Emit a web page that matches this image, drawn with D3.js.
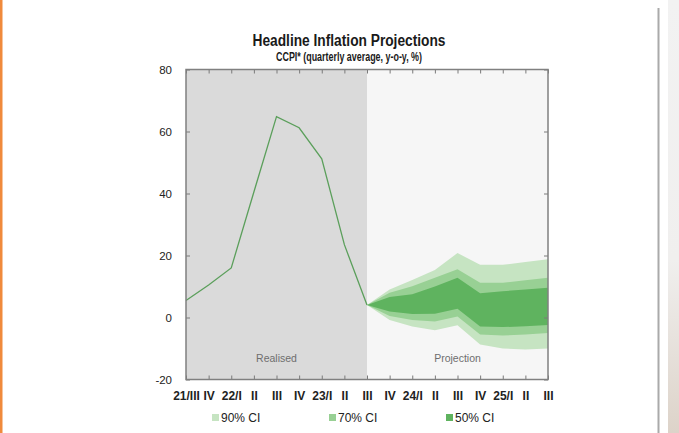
<!DOCTYPE html>
<html>
<head>
<meta charset="utf-8">
<script src="https://cdn.jsdelivr.net/npm/d3@7"></script>
<style>
  html, body { margin: 0; padding: 0; background: #ffffff; }
  svg { display: block; }
  text { font-family: "Liberation Sans", Arial, sans-serif; }
</style>
</head>
<body>
<svg id="chart" width="679" height="433"></svg>
<script>
// ---- data ----
const quarters = ["21/III","IV","22/I","II","III","IV","23/I","II","III","IV","24/I","II","III","IV","25/I","II","III"];
const realised = [5.5, 10.5, 16, 40.5, 64.8, 61.2, 51.2, 23.5, 4];
const projStart = 8;
const ci90Upper = [4, 9.0, 12.1, 15.3, 20.8, 17.0, 17.0, 17.9, 18.8];
const ci70Upper = [4, 8.0, 10.1, 12.8, 15.6, 11.2, 11.2, 12.0, 12.8];
const ci50Upper = [4, 6.6, 7.5, 10.0, 12.8, 7.8, 8.5, 9.0, 9.6];
const ci50Lower = [4, 1.9, 1.1, 1.2, 2.8, -2.9, -3.1, -2.8, -2.4];
const ci70Lower = [4, 0.5, -0.8, -1.3, 0.3, -5.5, -5.8, -5.5, -5.0];
const ci90Lower = [4, -0.8, -2.9, -4.1, -2.5, -8.7, -10.0, -10.3, -10.0];
const yTicks = [-20, 0, 20, 40, 60, 80];
const legendLabels = ["90% CI", "70% CI", "50% CI"];

// ---- layout ----
const svg = d3.select("#chart");
const L = 186, R = 548, T = 69.5, B = 379.5;
const x = d3.scalePoint().domain(d3.range(quarters.length)).range([L, R]);
const y = d3.scaleLinear().domain([-20, 80]).range([B, T]);
const colors = { c90: "#c6e4c2", c70: "#98d094", c50: "#5fb35f", line: "#5b9f5b" };

// page decorations
svg.append("rect").attr("x", 0).attr("y", 0).attr("width", 2.5).attr("height", 433).attr("fill", "#f08a3c");
const grad = svg.append("defs").append("linearGradient").attr("id", "side").attr("x1", 0).attr("y1", 0).attr("x2", 0).attr("y2", 1);
grad.append("stop").attr("offset", "0%").attr("stop-color", "#f2f2f2");
grad.append("stop").attr("offset", "60%").attr("stop-color", "#f0efee");
grad.append("stop").attr("offset", "100%").attr("stop-color", "#ddd3c9");
svg.append("rect").attr("x", 668).attr("y", 0).attr("width", 11).attr("height", 433).attr("fill", "url(#side)");
svg.append("line").attr("x1", 658.5).attr("x2", 658.5).attr("y1", 8).attr("y2", 433).attr("stroke", "#aaaaaa").attr("stroke-width", 2);

// titles
svg.append("text").attr("x", 349).attr("y", 46).attr("text-anchor", "middle")
  .attr("font-size", 16).attr("font-weight", "bold").attr("fill", "#1a1a1a")
  .attr("textLength", 193).attr("lengthAdjust", "spacingAndGlyphs")
  .text("Headline Inflation Projections");
svg.append("text").attr("x", 349).attr("y", 61).attr("text-anchor", "middle")
  .attr("font-size", 12.5).attr("font-weight", "bold").attr("fill", "#1a1a1a")
  .attr("textLength", 146).attr("lengthAdjust", "spacingAndGlyphs")
  .text("CCPI* (quarterly average, y-o-y, %)");

// backgrounds
svg.append("rect").attr("x", L).attr("y", T).attr("width", x(projStart) - L).attr("height", B - T).attr("fill", "#dadada");
svg.append("rect").attr("x", x(projStart)).attr("y", T).attr("width", R - x(projStart)).attr("height", B - T).attr("fill", "#f6f6f6");

// fan bands
const idx = d3.range(projStart, quarters.length);
function band(up, lo, col) {
  const area = d3.area().x((d, i) => x(idx[i])).y0((d, i) => y(lo[i])).y1((d, i) => y(up[i]));
  svg.append("path").datum(up).attr("d", area).attr("fill", col);
}
band(ci90Upper, ci90Lower, colors.c90);
band(ci70Upper, ci70Lower, colors.c70);
band(ci50Upper, ci50Lower, colors.c50);

// realised line
svg.append("path").datum(realised)
  .attr("d", d3.line().x((d, i) => x(i)).y(d => y(d)))
  .attr("fill", "none").attr("stroke", colors.line).attr("stroke-width", 1.3);

// region labels
svg.append("text").attr("x", (L + x(projStart)) / 2).attr("y", 362).attr("text-anchor", "middle")
  .attr("font-size", 10.5).attr("fill", "#6e6e6e").text("Realised");
svg.append("text").attr("x", (x(projStart) + R) / 2).attr("y", 362).attr("text-anchor", "middle")
  .attr("font-size", 10.5).attr("fill", "#6e6e6e").text("Projection");

// axes (ticks inside the frame)
const tickCol = "#7a7a7a";
const xb = svg.append("g").attr("transform", `translate(0,${B})`)
  .call(d3.axisBottom(x).tickSize(-4).tickFormat(i => quarters[i]).tickPadding(10));
const xt = svg.append("g").attr("transform", `translate(0,${T})`)
  .call(d3.axisTop(x).tickSize(-4).tickFormat(""));
const yl = svg.append("g").attr("transform", `translate(${L},0)`)
  .call(d3.axisLeft(y).tickValues(yTicks).tickSize(-4).tickPadding(14).tickFormat(d => String(d)));
const yr = svg.append("g").attr("transform", `translate(${R},0)`)
  .call(d3.axisRight(y).tickValues(yTicks).tickSize(-4).tickFormat(""));
[xb, xt, yl, yr].forEach(g => {
  g.select(".domain").remove();
  g.selectAll(".tick line").attr("stroke", tickCol).attr("stroke-width", 1);
});
xb.selectAll(".tick text").attr("font-size", 12).attr("fill", "#222").attr("font-family", "Liberation Sans, Arial, sans-serif").attr("font-weight", "bold").attr("dy", "0.9em");
yl.selectAll(".tick text").attr("font-size", 11.5).attr("fill", "#222").attr("font-family", "Liberation Sans, Arial, sans-serif");

// frame
svg.append("rect").attr("x", L).attr("y", T).attr("width", R - L).attr("height", B - T)
  .attr("fill", "none").attr("stroke", "#808080").attr("stroke-width", 1.5);

// legend
const legX = [212, 329, 446];
const legCols = [colors.c90, colors.c70, colors.c50];
legendLabels.forEach((lab, i) => {
  svg.append("rect").attr("x", legX[i]).attr("y", 414).attr("width", 7).attr("height", 7).attr("fill", legCols[i]);
  svg.append("text").attr("x", legX[i] + 9).attr("y", 422).attr("font-size", 12).attr("fill", "#222").text(lab);
});
</script>
</body>
</html>
